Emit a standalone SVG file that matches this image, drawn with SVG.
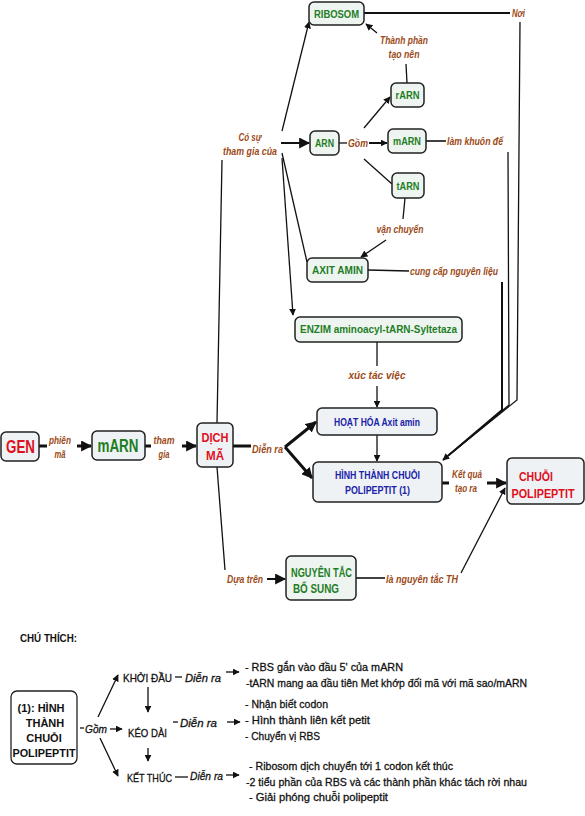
<svg xmlns="http://www.w3.org/2000/svg" width="585" height="816" viewBox="0 0 585 816">
<defs>
<marker id="ah" viewBox="0 0 10 10" refX="9" refY="5" markerWidth="7" markerHeight="7" markerUnits="userSpaceOnUse" orient="auto"><path d="M0,0 L10,5 L0,10 z" fill="#111"/></marker>
<marker id="ahb" viewBox="0 0 10 10" refX="9" refY="5" markerWidth="11" markerHeight="11" markerUnits="userSpaceOnUse" orient="auto"><path d="M0,0 L10,5 L0,10 z" fill="#111"/></marker>
<style>
.box{fill:#eef5f1;stroke:#222;stroke-width:1.5}
.bb{fill:#eef2f5;stroke:#222;stroke-width:1.5}
.g{font-family:"Liberation Sans",Arial,sans-serif;font-weight:bold;fill:#1e7d25;text-anchor:middle}
.r{font-family:"Liberation Sans",Arial,sans-serif;font-weight:bold;fill:#e0101e;text-anchor:middle}
.bl{font-family:"Liberation Sans",Arial,sans-serif;font-weight:bold;fill:#1a22a8;text-anchor:middle;font-size:10px}
.lb{font-family:"Liberation Sans",Arial,sans-serif;font-style:italic;font-weight:bold;fill:#9c4a18;font-size:11px}
.k{font-family:"Liberation Sans",Arial,sans-serif;fill:#111;font-size:11.5px;stroke:#111;stroke-width:0.3}
.ki{font-family:"Liberation Sans",Arial,sans-serif;fill:#111;font-size:11.5px;font-style:italic;stroke:#111;stroke-width:0.3}
.kb{font-family:"Liberation Sans",Arial,sans-serif;fill:#111;font-size:11px;font-weight:bold}
.c{fill:none;stroke:#111;stroke-width:1.3}
.ca{fill:none;stroke:#111;stroke-width:1.3;marker-end:url(#ah)}
.t{fill:none;stroke:#111;stroke-width:3}
.ta{fill:none;stroke:#111;stroke-width:3;marker-end:url(#ahb)}
.m{text-anchor:middle}
</style>
</defs>

<g id="connectors">
<path class="ca" d="M282,131 L309,22"/>
<path class="ta" d="M281,143 L309,143" style="stroke-width:2"/>
<path class="c" d="M282,153 L307,262"/>
<path class="ca" d="M282,158 L293,315"/>
<path class="c" d="M217,423 L222,160"/>
<path class="c" d="M364,13 L510,13" style="stroke-width:2"/>
<path class="c" d="M520,22 L517,400 L449,455"/>
<path class="c" d="M508,152 L509,405 L449,455"/>
<path class="ca" d="M502,282 L502,410 L443,460" style="stroke-width:2"/>
<path class="ca" d="M377,33 L366,24"/>
<path class="c" d="M407,83 L406,64"/>
<path class="c" d="M339,143 L347,143"/>
<path class="ca" d="M369,143 L387,143" style="stroke-width:2"/>
<path class="ca" d="M364,128 L390,97"/>
<path class="c" d="M364,159 L392,184"/>
<path class="c" d="M426,141 L446,141" style="stroke-width:1.6"/>
<path class="c" d="M405,198 L403,219"/>
<path class="ca" d="M386,240 L361,257"/>
<path class="c" d="M368,270 L409,271" style="stroke-width:1.6"/>
<path class="c" d="M377,342 L377,366"/>
<path class="ca" d="M377,386 L377,407"/>
<path class="ca" d="M377,435 L377,461"/>
<path class="t" d="M39,446 L47,446"/>
<path class="ta" d="M77,446 L91,446"/>
<path class="t" d="M145,446 L151,446"/>
<path class="ta" d="M182,446 L196,446"/>
<path class="t" d="M233,446 L251,446"/>
<path class="ta" d="M285,447 L316,422"/>
<path class="ta" d="M285,447 L312,478"/>
<path class="t" d="M442,483 L449,483"/>
<path class="ta" d="M487,483 L506,483"/>
<path class="c" d="M217,467 L225,570"/>
<path class="ta" d="M267,579 L285,579" style="stroke-width:2"/>
<path class="c" d="M356,578 L385,578" style="stroke-width:1.6"/>
<path class="ca" d="M461,573 L505,488"/>
<!-- legend -->
<path class="c" d="M80,728 L84,728"/>
<path class="ca" d="M110,729 L122,729"/>
<path class="ca" d="M98,717 L118,675"/>
<path class="ca" d="M100,738 L118,776"/>
<path class="ca" d="M148,687 L148,712"/>
<path class="ca" d="M148,748 L148,761"/>
<path class="c" d="M175,677 L182,677"/>
<path class="c" d="M173,722 L178,722"/>
<path class="c" d="M175,777 L188,777"/>
<path class="ca" d="M226,672 L239,672"/>
<path class="ca" d="M227,722 L240,722"/>
<path class="ca" d="M226,775 L239,775"/>
</g>

<g id="ribosom"><rect class="box" x="309" y="2" width="55" height="23" rx="5"/><text class="g" x="336.5" y="18" font-size="11" textLength="45" lengthAdjust="spacingAndGlyphs">RIBOSOM</text></g>
<g id="rarn"><rect class="box" x="391" y="83" width="33" height="24" rx="5"/><text class="g" x="407.5" y="99" font-size="11" textLength="24" lengthAdjust="spacingAndGlyphs">rARN</text></g>
<g id="arn"><rect class="box" x="310" y="131" width="29" height="24" rx="5"/><text class="g" x="324.5" y="147" font-size="11" textLength="19" lengthAdjust="spacingAndGlyphs">ARN</text></g>
<g id="marn-small"><rect class="box" x="388" y="129" width="38" height="24" rx="5"/><text class="g" x="407" y="145" font-size="11" textLength="28" lengthAdjust="spacingAndGlyphs">mARN</text></g>
<g id="tarn"><rect class="box" x="392" y="173" width="32" height="25" rx="5"/><text class="g" x="408" y="190" font-size="11" textLength="23" lengthAdjust="spacingAndGlyphs">tARN</text></g>
<g id="axitamin"><rect class="box" x="307" y="258" width="61" height="24" rx="5"/><text class="g" x="337.5" y="274" font-size="11" textLength="51" lengthAdjust="spacingAndGlyphs">AXIT AMIN</text></g>
<g id="enzim"><rect class="box" x="295" y="317" width="167" height="25" rx="5"/><text class="g" x="378.5" y="333" font-size="11" textLength="157" lengthAdjust="spacingAndGlyphs">ENZIM aminoacyl-tARN-Syltetaza</text></g>
<g id="hoathoa"><rect class="bb" x="317" y="408" width="120" height="27" rx="5"/><text class="bl" x="377" y="426" textLength="86" lengthAdjust="spacingAndGlyphs">HOẠT HÓA Axit amin</text></g>
<g id="hinhthanh"><rect class="bb" x="313" y="462" width="129" height="40" rx="5"/><text class="bl" x="377.5" y="479" textLength="85" lengthAdjust="spacingAndGlyphs">HÌNH THÀNH CHUỖI</text><text class="bl" x="377.5" y="494" textLength="65" lengthAdjust="spacingAndGlyphs">POLIPEPTIT (1)</text></g>
<g id="chuoi"><rect class="bb" x="507" y="458" width="77" height="46" rx="5"/><text class="r" x="536" y="481" font-size="12" textLength="34" lengthAdjust="spacingAndGlyphs">CHUỖI</text><text class="r" x="543" y="498" font-size="12" textLength="63" lengthAdjust="spacingAndGlyphs">POLIPEPTIT</text></g>
<g id="dichma"><rect class="bb" x="197" y="423" width="36" height="44" rx="5"/><text class="r" x="215" y="442" font-size="13" textLength="27" lengthAdjust="spacingAndGlyphs">DỊCH</text><text class="r" x="215" y="460" font-size="13" textLength="18" lengthAdjust="spacingAndGlyphs">MÃ</text></g>
<g id="gen"><rect class="bb" x="1" y="432" width="38" height="29" rx="5"/><text class="r" x="20.5" y="453" font-size="19" textLength="29" lengthAdjust="spacingAndGlyphs">GEN</text></g>
<g id="marn"><rect class="bb" x="92" y="431" width="53" height="29" rx="5"/><text class="g" x="118" y="452" font-size="18" textLength="41" lengthAdjust="spacingAndGlyphs">mARN</text></g>
<g id="nguyentac"><rect class="box" x="286" y="556" width="70" height="44" rx="5"/><text class="g" x="321.5" y="577" font-size="12" textLength="61" lengthAdjust="spacingAndGlyphs">NGUYÊN TẮC</text><text class="g" x="316" y="593" font-size="12" textLength="46" lengthAdjust="spacingAndGlyphs">BỔ SUNG</text></g>

<g id="labels">
<text class="lb" x="512" y="17" textLength="13" lengthAdjust="spacingAndGlyphs">Nơi</text>
<text class="lb m" x="404" y="44" textLength="48" lengthAdjust="spacingAndGlyphs">Thành phần</text>
<text class="lb m" x="404" y="58" textLength="31" lengthAdjust="spacingAndGlyphs">tạo nên</text>
<text class="lb m" x="250" y="141" textLength="23" lengthAdjust="spacingAndGlyphs">Có sự</text>
<text class="lb m" x="250" y="155" textLength="54" lengthAdjust="spacingAndGlyphs">tham gia của</text>
<text class="lb" x="348" y="147" textLength="20" lengthAdjust="spacingAndGlyphs">Gồm</text>
<text class="lb" x="447" y="145" textLength="56" lengthAdjust="spacingAndGlyphs">làm khuôn để</text>
<text class="lb m" x="400" y="233" textLength="47" lengthAdjust="spacingAndGlyphs">vận chuyển</text>
<text class="lb" x="410" y="275" textLength="88" lengthAdjust="spacingAndGlyphs">cung cấp nguyên liệu</text>
<text class="lb m" x="377" y="379" font-size="12" textLength="57" lengthAdjust="spacingAndGlyphs">xúc tác việc</text>
<text class="lb m" x="60" y="444" textLength="22" lengthAdjust="spacingAndGlyphs">phiên</text>
<text class="lb m" x="60" y="458" textLength="11" lengthAdjust="spacingAndGlyphs">mã</text>
<text class="lb m" x="164" y="444" textLength="21" lengthAdjust="spacingAndGlyphs">tham</text>
<text class="lb m" x="164" y="458" textLength="11" lengthAdjust="spacingAndGlyphs">gia</text>
<text class="lb" x="252" y="453" textLength="31" lengthAdjust="spacingAndGlyphs">Diễn ra</text>
<text class="lb m" x="467" y="478" textLength="30" lengthAdjust="spacingAndGlyphs">Kết quả</text>
<text class="lb m" x="466" y="492" textLength="22" lengthAdjust="spacingAndGlyphs">tạo ra</text>
<text class="lb" x="227" y="583" textLength="36" lengthAdjust="spacingAndGlyphs">Dựa trên</text>
<text class="lb" x="386" y="583" textLength="72" lengthAdjust="spacingAndGlyphs">là nguyên tắc TH</text>
</g>

<g id="legend">
<text class="kb" x="20" y="642" textLength="57" lengthAdjust="spacingAndGlyphs">CHÚ THÍCH:</text>
<g id="legend-box"><rect x="11" y="691" width="66" height="73" rx="6" fill="#fff" stroke="#222" stroke-width="1.3"/>
<text class="kb m" x="41" y="712">(1): HÌNH</text>
<text class="kb m" x="45" y="727">THÀNH</text>
<text class="kb m" x="44" y="742">CHUỖI</text>
<text class="kb m" x="44" y="757" textLength="63" lengthAdjust="spacingAndGlyphs">POLIPEPTIT</text></g>
<text class="ki" x="85" y="733" textLength="22" lengthAdjust="spacingAndGlyphs">Gồm</text>
<text class="k" x="123" y="682" textLength="49" lengthAdjust="spacingAndGlyphs">KHỞI ĐẦU</text>
<text class="k" x="128" y="737" textLength="39" lengthAdjust="spacingAndGlyphs">KÉO DÀI</text>
<text class="k" x="127" y="782" textLength="45" lengthAdjust="spacingAndGlyphs">KẾT THÚC</text>
<text class="ki" x="185" y="682" textLength="36" lengthAdjust="spacingAndGlyphs">Diễn ra</text>
<text class="ki" x="180" y="727" textLength="37" lengthAdjust="spacingAndGlyphs">Diễn ra</text>
<text class="ki" x="190" y="780" textLength="33" lengthAdjust="spacingAndGlyphs">Diễn ra</text>
<text class="k" x="245" y="671" textLength="158" lengthAdjust="spacingAndGlyphs">- RBS gắn vào đầu 5' của mARN</text>
<text class="k" x="246" y="687" textLength="281" lengthAdjust="spacingAndGlyphs">-tARN mang aa đầu tiên Met khớp đối mã với mã sao/mARN</text>
<text class="k" x="245" y="708" textLength="83" lengthAdjust="spacingAndGlyphs">- Nhận biết codon</text>
<text class="k" x="245" y="724" textLength="125" lengthAdjust="spacingAndGlyphs">- Hình thành liên kết petit</text>
<text class="k" x="245" y="740" textLength="75" lengthAdjust="spacingAndGlyphs">- Chuyển vị RBS</text>
<text class="k" x="249" y="770" textLength="204" lengthAdjust="spacingAndGlyphs">- Ribosom dịch chuyển tới 1 codon kết thúc</text>
<text class="k" x="246" y="786" textLength="281" lengthAdjust="spacingAndGlyphs">-2 tiểu phần của RBS và các thành phần khác tách rời nhau</text>
<text class="k" x="249" y="801" textLength="139" lengthAdjust="spacingAndGlyphs">- Giải phóng chuỗi polipeptit</text>
</g>
</svg>
